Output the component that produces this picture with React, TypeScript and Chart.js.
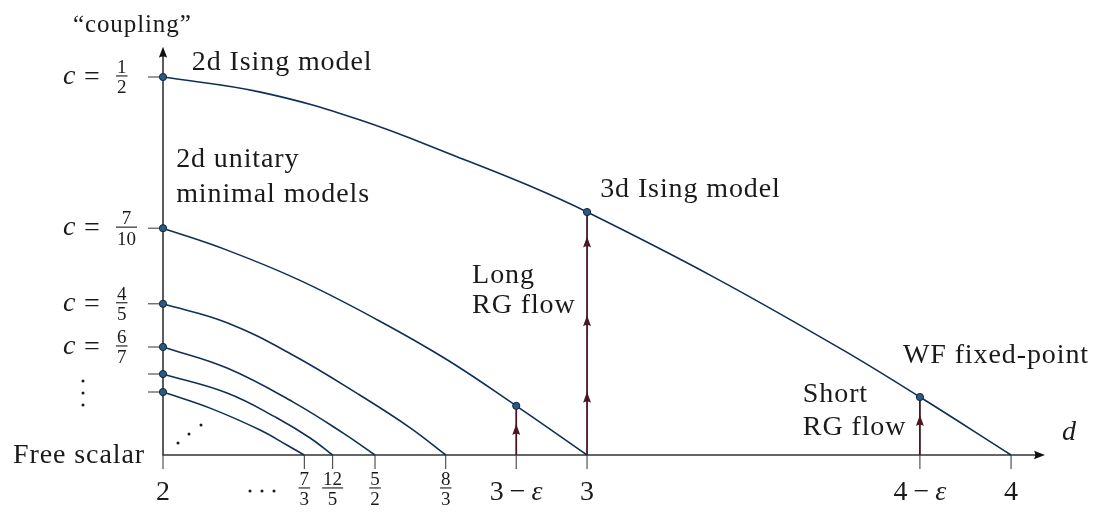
import { useEffect, useRef } from "react";
import { Chart, registerables } from "chart.js";

Chart.register(...registerables);

// ---------------- data (d = dimension, v = "coupling" = 1 - c) ----------------
const curveM3D = [2, 2.23, 2.465, 2.7, 2.86, 3.0, 3.3, 3.6, 3.785, 4.0];
const curveM3V = [0.5, 0.48, 0.443, 0.393, 0.357, 0.3214, 0.235, 0.14, 0.0767, 0];
const curveM4D = [2, 2.151, 2.323, 2.505, 2.67, 2.833, 3];
const curveM4V = [0.3, 0.271, 0.231, 0.179, 0.126, 0.065, 0];
const curveM5D = [2, 2.151, 2.307, 2.465, 2.583, 2.667];
const curveM5V = [0.2, 0.175, 0.132, 0.079, 0.036, 0];
const curveM6D = [2, 2.151, 2.307, 2.425, 2.5];
const curveM6V = [0.1429, 0.115, 0.07, 0.029, 0];
const curveM7D = [2, 2.151, 2.269, 2.347, 2.4];
const curveM7V = [0.1071, 0.082, 0.049, 0.0225, 0];
const curveM8D = [2, 2.111, 2.229, 2.292, 2.333];
const curveM8V = [0.0833, 0.062, 0.033, 0.0132, 0];

const curveNames = ["m=3", "m=4", "m=5", "m=6", "m=7", "m=8"];
const curveDs = [curveM3D, curveM4D, curveM5D, curveM6D, curveM7D, curveM8D];
const curveVs = [curveM3V, curveM4V, curveM5V, curveM6V, curveM7V, curveM8V];

const fixedPointD = [2, 2, 2, 2, 2, 2, 3, 2.833, 3.785];
const fixedPointV = [0.5, 0.3, 0.2, 0.1429, 0.1071, 0.0833, 0.3214, 0.065, 0.0767];

const flowD = [2.833, 3, 3.785];
const flowTopV = [0.065, 0.3214, 0.0767];
const flowHeadV = [[0.041], [0.0837, 0.185, 0.289], [0.053]];

const xTickValues = [2, 7 / 3, 12 / 5, 5 / 2, 8 / 3, 2.833, 3, 3.785, 4];
const xTickLabels = ["2", "7/3", "12/5", "5/2", "8/3", "3 − ε", "3", "4 − ε", "4"];
const yTickValues = [0.5, 0.3, 0.2, 1 / 7, 3 / 28, 1 / 12];
const yTickLabels = ["c = 1/2", "c = 7/10", "c = 4/5", "c = 6/7", "", ""];

const xMin = 2;
const xMax = 4.08;
const yMin = 0;
const yMax = 0.54;

// annotation texts, anchored in data coordinates (left edge, baseline)
const noteTexts = [
  "2d Ising model",
  "2d unitary",
  "minimal models",
  "3d Ising model",
  "Long",
  "RG flow",
  "WF fixed-point",
  "Short",
  "RG flow",
];
const noteD = [2.068, 2.031, 2.031, 3.031, 2.729, 2.729, 3.745, 3.509, 3.509];
const noteV = [0.5093, 0.381, 0.3347, 0.3413, 0.2275, 0.1878, 0.1217, 0.0701, 0.0265];

// ---------------- styles ----------------
const SERIF = '"Liberation Serif", "Times New Roman", serif';
const TEXT = "#1a1a1a";
const AXIS = "#333333";
const CURVE = "#0f2f55";
const FLOW = "#4a1622";
const PT_FILL = "#2c5a7e";
const PT_EDGE = "#0c2740";
const BIG = 28;
const SMALL = 19;

type Ctx = CanvasRenderingContext2D;

function arrowHead(ctx: Ctx, x: number, y: number, dir: "up" | "right", color: string, len = 10, half = 3.6) {
  ctx.save();
  ctx.translate(x, y);
  if (dir === "right") ctx.rotate(Math.PI / 2);
  ctx.fillStyle = color;
  ctx.beginPath();
  ctx.moveTo(0, 0);
  ctx.lineTo(-half, len);
  ctx.quadraticCurveTo(0, len * 0.78, half, len);
  ctx.closePath();
  ctx.fill();
  ctx.restore();
}

function drawFrac(ctx: Ctx, num: string, den: string, cx: number, cy: number, size: number) {
  ctx.font = `${size}px ${SERIF}`;
  const w = Math.max(ctx.measureText(num).width, ctx.measureText(den).width);
  ctx.textAlign = "center";
  ctx.textBaseline = "alphabetic";
  ctx.fillText(num, cx, cy - 4);
  ctx.fillText(den, cx, cy + size * 0.7 + 3);
  ctx.fillRect(cx - w / 2 - 1, cy - 1.6, w + 2, 1.1);
  return w + 2;
}

function dot(ctx: Ctx, x: number, y: number, r = 1.4) {
  ctx.beginPath();
  ctx.arc(x, y, r, 0, Math.PI * 2);
  ctx.fill();
}

const overlay = {
  id: "overlay",
  beforeDatasetsDraw(chart: any) {
    const ctx: Ctx = chart.ctx;
    const xs = chart.scales.x;
    const ys = chart.scales.y;
    const X = (d: number) => xs.getPixelForValue(d);
    const Y = (v: number) => ys.getPixelForValue(v);
    const x0 = X(xMin);
    const y0 = Y(yMin);
    const xEnd = X(xMax);
    const yTop = Y(yMax);
    ctx.save();
    // axes
    ctx.strokeStyle = AXIS;
    ctx.lineWidth = 1.6;
    ctx.beginPath();
    ctx.moveTo(x0, y0);
    ctx.lineTo(xEnd - 6, y0);
    ctx.moveTo(x0, y0 + 0.8);
    ctx.lineTo(x0, yTop + 6);
    ctx.stroke();
    arrowHead(ctx, xEnd, y0, "right", "#111", 11, 4.2);
    arrowHead(ctx, x0, yTop, "up", "#111", 11, 4.2);

    // x ticks
    ctx.lineWidth = 1.1;
    ctx.strokeStyle = "#444";
    ctx.fillStyle = TEXT;
    xTickValues.forEach((d, i) => {
      const px = X(d);
      ctx.beginPath();
      ctx.moveTo(px, y0);
      ctx.lineTo(px, y0 + 14);
      ctx.stroke();
      const lab = xTickLabels[i];
      if (lab.includes("/")) {
        const [n, dd] = lab.split("/");
        drawFrac(ctx, n, dd, px, y0 + 34, SMALL);
      } else if (lab.includes("ε")) {
        const parts = lab.split(" − ");
        ctx.font = `${BIG}px ${SERIF}`;
        const w1 = ctx.measureText(parts[0]).width;
        const wm = ctx.measureText("−").width;
        ctx.font = `italic ${BIG}px ${SERIF}`;
        const we = ctx.measureText("ε").width;
        const gap = 6;
        const total = w1 + gap + wm + gap + we;
        let cx = px - total / 2;
        ctx.textAlign = "left";
        ctx.textBaseline = "alphabetic";
        ctx.font = `${BIG}px ${SERIF}`;
        ctx.fillText(parts[0], cx, y0 + 45);
        cx += w1 + gap;
        ctx.fillText("−", cx, y0 + 45);
        cx += wm + gap;
        ctx.font = `italic ${BIG}px ${SERIF}`;
        ctx.fillText("ε", cx, y0 + 45);
      } else {
        ctx.font = `${BIG}px ${SERIF}`;
        ctx.textAlign = "center";
        ctx.textBaseline = "alphabetic";
        ctx.fillText(lab, px, y0 + 45);
      }
    });
    // horizontal ellipsis between 2 and 7/3
    const ex = X(2.2335);
    [-12, 0, 12].forEach((o) => dot(ctx, ex + o, y0 + 36, 1.5));

    // y ticks
    yTickValues.forEach((v, i) => {
      const py = Y(v);
      ctx.beginPath();
      ctx.moveTo(x0 - 15, py);
      ctx.lineTo(x0, py);
      ctx.stroke();
      const lab = yTickLabels[i];
      if (!lab) return;
      const frac = lab.split(" = ")[1];
      const [n, dd] = frac.split("/");
      const lx = x0 - 100;
      ctx.textAlign = "left";
      ctx.textBaseline = "alphabetic";
      ctx.font = `italic ${BIG}px ${SERIF}`;
      ctx.fillText("c", lx, py + 7);
      ctx.font = `${BIG}px ${SERIF}`;
      ctx.fillText("=", lx + 21, py + 8);
      ctx.font = `${SMALL}px ${SERIF}`;
      const w = Math.max(ctx.measureText(n).width, ctx.measureText(dd).width);
      drawFrac(ctx, n, dd, lx + 54 + w / 2, py, SMALL);
    });
    // vertical ellipsis
    const vy = Y(1 / 12);
    [-11, 1, 13].forEach((o) => dot(ctx, x0 - 80, vy + o, 1.5));

    // flows
    ctx.strokeStyle = FLOW;
    ctx.lineWidth = 1.8;
    flowD.forEach((d, i) => {
      const px = X(d);
      ctx.beginPath();
      ctx.moveTo(px, y0);
      ctx.lineTo(px, Y(flowTopV[i]));
      ctx.stroke();
      flowHeadV[i].forEach((hv) => arrowHead(ctx, px, Y(hv), "up", FLOW, 11, 4));
    });
    ctx.restore();
  },
  afterDatasetsDraw(chart: any) {
    const ctx: Ctx = chart.ctx;
    const xs = chart.scales.x;
    const ys = chart.scales.y;
    const X = (d: number) => xs.getPixelForValue(d);
    const Y = (v: number) => ys.getPixelForValue(v);
    ctx.save();
    ctx.fillStyle = TEXT;
    ctx.textBaseline = "alphabetic";
    (ctx as any).letterSpacing = "0.9px";
    ctx.font = `${BIG}px ${SERIF}`;
    ctx.textAlign = "left";
    noteTexts.forEach((t, i) => ctx.fillText(t, X(noteD[i]), Y(noteV[i])));
    // axis titles
    ctx.font = `${BIG - 3}px ${SERIF}`;
    ctx.fillText("\u201Ccoupling\u201D", X(1.7877), Y(0.5599));
    ctx.font = `${BIG}px ${SERIF}`;
    ctx.textAlign = "right";
    ctx.fillText("Free scalar", X(1.9575), Y(-0.0106));
    (ctx as any).letterSpacing = "0px";
    ctx.textAlign = "left";
    ctx.font = `italic ${BIG}px ${SERIF}`;
    ctx.fillText("d", X(4.1203), Y(0.0198));
    // diagonal dots
    [
      [2.0354, 0.0159],
      [2.0613, 0.0278],
      [2.0896, 0.0397],
    ].forEach(([d, v]) => dot(ctx, X(d), Y(v), 1.5));
    ctx.restore();
  },
};

export default function App() {
  const ref = useRef<HTMLCanvasElement | null>(null);
  useEffect(() => {
    if (!ref.current) return;
    const curveSets = curveNames.map((name, k) => ({
      type: "line" as const,
      label: name,
      data: curveDs[k].map((d, i) => ({ x: d, y: curveVs[k][i] })),
      borderColor: CURVE,
      borderWidth: 1.6,
      pointRadius: 0,
      fill: false,
      tension: 0.4,
      clip: false as any,
      order: 2,
    }));
    const chart = new Chart(ref.current, {
      type: "line",
      data: {
        datasets: [
          {
            type: "scatter" as const,
            label: "fixed points",
            data: fixedPointD.map((d, i) => ({ x: d, y: fixedPointV[i] })),
            pointRadius: 3.6,
            pointBackgroundColor: PT_FILL,
            pointBorderColor: PT_EDGE,
            pointBorderWidth: 1,
            showLine: false,
            clip: false as any,
            order: 0,
          } as any,
          ...curveSets,
        ],
      },
      options: {
        animation: false,
        responsive: false,
        maintainAspectRatio: false,
        events: [],
        layout: {
          padding: { left: 163, right: 54, top: 455 - yMax * 756, bottom: 59 },
        },
        scales: {
          x: { type: "linear", min: xMin, max: xMax, display: false },
          y: { type: "linear", min: yMin, max: yMax, display: false },
        },
        plugins: { legend: { display: false }, tooltip: { enabled: false } },
      },
      plugins: [overlay],
    });
    return () => chart.destroy();
  }, []);
  return (
    <div style={{ position: "fixed", left: 0, top: 0, width: 1099, height: 514, background: "#fff" }}>
      <canvas ref={ref} width={1099} height={514} style={{ display: "block" }} />
    </div>
  );
}
